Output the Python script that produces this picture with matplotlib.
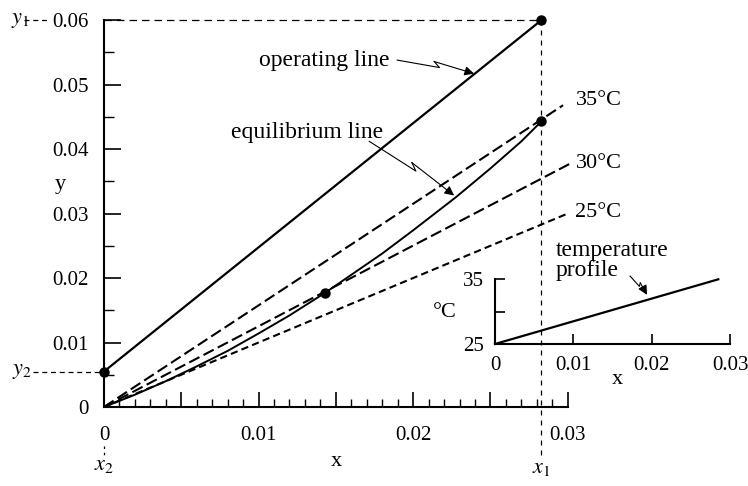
import numpy as np
import matplotlib
matplotlib.use('Agg')
import matplotlib.pyplot as plt
from matplotlib.ticker import MultipleLocator, FuncFormatter

plt.rcParams['font.family'] = 'Liberation Serif'
plt.rcParams['mathtext.fontset'] = 'stix'

# values
x2, y2 = 0.0, 0.0055
x1, y1 = 0.0283, 0.06
op_x = [x2, x1]
op_y = [y2, y1]
eq_x = [0, 0.002, 0.004, 0.006, 0.008, 0.010, 0.012, 0.0143, 0.016, 0.018, 0.020, 0.0228, 0.025, 0.027, 0.0283]
eq_y = [0, 0.0019, 0.0040, 0.0063, 0.0087, 0.0114, 0.0142, 0.0177, 0.0205, 0.0238, 0.0274, 0.0326, 0.0370, 0.0412, 0.0443]
iso_labels = ['35°C', '30°C', '25°C']
iso_x_end = [0.0297, 0.0302, 0.0301]
iso_y_end = [0.0468, 0.0378, 0.0301]
dot_x = [x2, x1, x1, 0.0143]
dot_y = [y2, y1, 0.0443, 0.0177]
tp_x = [0, 0.0285]
tp_T = [25, 35]

fig = plt.figure(figsize=(7.48, 4.86), dpi=100)
ax = fig.add_axes([0.139, 0.1626, 0.620, 0.796])

# main curves
ax.plot(op_x, op_y, color='k', lw=1.6)
ax.plot(eq_x, eq_y, color='k', lw=1.4)
styles = [(0, (5.5, 2.2)), (0, (5.5, 2.2)), (0, (3.5, 2))]
for xe, ye, ls in zip(iso_x_end, iso_y_end, styles):
    ax.plot([0, xe], [0, ye], color='k', lw=1.5, ls=ls, clip_on=False)
ax.plot(dot_x, dot_y, 'ko', ms=6.5, clip_on=False, zorder=5)

# temperature labels
label_y = [0.0476, 0.0378, 0.0302]
for lab, ly in zip(iso_labels, label_y):
    ax.text(0.0305, ly, lab, ha='left', va='center', fontsize=16)

# guide lines
guide = dict(color='k', lw=0.9, clip_on=False)
ax.plot([0, x1], [y1, y1], ls=(0, (6, 4)), **guide)
ax.plot([x1, x1], [y1, -0.0079], ls=(0, (4, 4)), **guide)
yt = ax.get_yaxis_transform()
xt = ax.get_xaxis_transform()
ax.plot([-0.172, -0.118], [y1, y1], transform=yt, ls=(0, (4, 3)), **guide)
ax.plot([-0.153, 0], [y2, y2], transform=yt, ls=(0, (4, 3)), **guide)
ax.plot([x2, x2], [-0.10, -0.13], transform=xt, ls=(0, (2, 3)), **guide)
ax.text(-0.2, y1, '$y_1$', transform=yt, ha='left', va='center', fontsize=16)
ax.text(-0.198, y2, '$y_2$', transform=yt, ha='left', va='center', fontsize=16)
ax.text(x2, -0.152, '$x_2$', transform=xt, ha='center', va='center', fontsize=16)
ax.text(x1, -0.158, '$x_1$', transform=xt, ha='center', va='center', fontsize=16)

# axes styling
ax.set_xlim(0, 0.03)
ax.set_ylim(0, 0.06)
for s in ['top', 'right']:
    ax.spines[s].set_visible(False)
for s in ['left', 'bottom']:
    ax.spines[s].set_linewidth(1.5)
ax.patch.set_alpha(0)

def xfmt(v, pos):
    if abs(v) < 1e-9:
        return '0'
    if abs(v / 0.01 - round(v / 0.01)) < 1e-6:
        return '{:.2f}'.format(v)
    return ''

def yfmt(v, pos):
    if abs(v) < 1e-9:
        return '0'
    return '{:.2f}'.format(v)

ax.xaxis.set_major_locator(MultipleLocator(0.005))
ax.xaxis.set_minor_locator(MultipleLocator(0.001))
ax.xaxis.set_major_formatter(FuncFormatter(xfmt))
ax.yaxis.set_major_locator(MultipleLocator(0.01))
ax.yaxis.set_minor_locator(MultipleLocator(0.005))
ax.yaxis.set_major_formatter(FuncFormatter(yfmt))
ax.tick_params(axis='x', which='major', direction='in', length=11, width=1.2, pad=14, labelsize=15)
ax.tick_params(axis='x', which='minor', direction='in', length=6, width=1)
ax.tick_params(axis='y', which='major', direction='in', length=12, width=1.2, pad=11, labelsize=15)
ax.tick_params(axis='y', which='minor', direction='in', length=7, width=1)

ax.set_xlabel('x', fontsize=16, va='center')
ax.xaxis.set_label_coords(0.502, -0.14)
ax.set_ylabel('y', fontsize=16, rotation=0, ha='center', va='center')
ax.yaxis.set_label_coords(-0.095, 0.574)

# inset: temperature profile
ax2 = fig.add_axes([0.6618, 0.2922, 0.3142, 0.1331])
ax2.plot(tp_x, tp_T, color='k', lw=1.6, clip_on=False)
ax2.set_xlim(0, 0.03)
ax2.set_ylim(25, 35)
ax2.patch.set_alpha(0)
for s in ['top', 'right']:
    ax2.spines[s].set_visible(False)
for s in ['left', 'bottom']:
    ax2.spines[s].set_linewidth(1.5)
ax2.set_xticks([0, 0.01, 0.02, 0.03])
ax2.set_xticklabels(['0', '0.01', '0.02', '0.03'])
ax2.set_yticks([25, 30, 35])
ax2.set_yticklabels(['25', '', '35'])
ax2.tick_params(direction='in', length=7, width=1.2, labelsize=15)
ax2.tick_params(axis='x', pad=9)
ax2.tick_params(axis='y', pad=8)
ax2.set_xlabel('x', fontsize=16, va='center')
ax2.xaxis.set_label_coords(0.519, -0.556)
ax2.set_ylabel('°C', fontsize=16, rotation=0, ha='center', va='center')
ax2.yaxis.set_label_coords(-0.213, 0.48)


# lightning-style arrows, jog drawn in pixel space
def bolt(axis, start, end, jog=5):
    to_px = axis.transData
    s = to_px.transform(start)
    e = to_px.transform(end)
    d = e - s
    u = d / np.hypot(*d)
    n = np.array([-u[1], u[0]])
    a = s + 0.55 * d
    b = s + 0.47 * d + n * jog
    inv = to_px.inverted()
    pa, pb = inv.transform(a), inv.transform(b)
    axis.plot([start[0], pa[0], pb[0]], [start[1], pa[1], pb[1]],
              color='k', lw=0.8, clip_on=False)
    axis.annotate('', xy=end, xytext=pb,
                  arrowprops=dict(arrowstyle='-|>', color='k', lw=0.8,
                                  mutation_scale=14, shrinkA=0, shrinkB=0))


ax.text(0.01426, 0.0537, 'operating line', ha='center', va='center', fontsize=17)
bolt(ax, (0.01897, 0.0538), (0.02394, 0.0517))
ax.text(0.01316, 0.0426, 'equilibrium line', ha='center', va='center', fontsize=17)
bolt(ax, (0.01716, 0.0412), (0.02265, 0.0328))
ax2.text(0.0077, 37.9, 'temperature\nprofile', ha='left', va='center', fontsize=17, linespacing=0.95)
bolt(ax2, (0.01724, 35.5), (0.0194, 32.6), jog=3)

fig.savefig('out.png', dpi=100)
